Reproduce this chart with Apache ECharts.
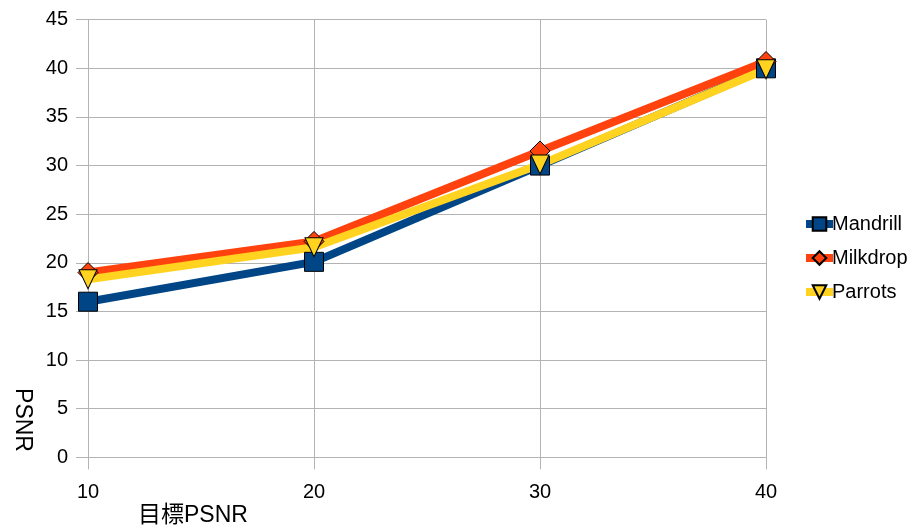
<!DOCTYPE html>
<html>
<head>
<meta charset="utf-8">
<script src="https://cdn.jsdelivr.net/npm/echarts@6/dist/echarts.min.js"></script>
<style>
  html, body { margin: 0; padding: 0; background: #ffffff; }
  #chart { width: 913px; height: 531px; }
</style>
</head>
<body>
<div id="chart"></div>
<script>
// Target PSNR on the x axis, achieved PSNR per test image
const targetPsnr = [10, 20, 30, 40];
const mandrill = [16.0, 20.1, 30.0, 40.0];
const milkdrop = [19.0, 22.2, 31.5, 40.7];
const parrots = [18.3, 21.6, 30.1, 39.9];
const yTicks = { min: 0, max: 45, step: 5 };
const xTicks = { min: 10, max: 40, step: 10 };

const FONT = '"Liberation Sans", Arial, sans-serif';
const GRID_COLOR = '#b3b3b3';

function pairs(values) {
  return targetPsnr.map((x, i) => [x, values[i]]);
}

function lineSeries(name, values, color, symbol, size, rotate) {
  return {
    name: name,
    type: 'line',
    data: pairs(values),
    symbol: symbol,
    symbolSize: size,
    symbolRotate: rotate || 0,
    showAllSymbol: true,
    lineStyle: { color: color, width: 8 },
    itemStyle: { color: color, borderColor: '#000000', borderWidth: 1 },
    emphasis: { disabled: true },
    animation: false
  };
}

const chart = echarts.init(document.getElementById('chart'), null, { renderer: 'canvas' });
chart.setOption({
  backgroundColor: '#ffffff',
  animation: false,
  grid: { left: 88, right: 147, top: 19.7, bottom: 73.7, containLabel: false },
  xAxis: {
    type: 'value',
    min: xTicks.min,
    max: xTicks.max,
    interval: xTicks.step,
    axisLine: { show: true, lineStyle: { color: GRID_COLOR, width: 1 } },
    axisTick: { show: true, length: 12, lineStyle: { color: GRID_COLOR } },
    splitLine: { show: true, lineStyle: { color: GRID_COLOR, width: 1 } },
    axisLabel: { color: '#000000', fontFamily: FONT, fontSize: 20, margin: 25 }
  },
  yAxis: {
    type: 'value',
    min: yTicks.min,
    max: yTicks.max,
    interval: yTicks.step,
    axisLine: { show: true, lineStyle: { color: GRID_COLOR, width: 1 } },
    axisTick: { show: true, length: 12, lineStyle: { color: GRID_COLOR } },
    splitLine: { show: true, lineStyle: { color: GRID_COLOR, width: 1 } },
    axisLabel: { color: '#000000', fontFamily: FONT, fontSize: 20, margin: 20 }
  },
  legend: {
    orient: 'vertical',
    left: 797,
    top: 209,
    itemGap: 14,
    itemWidth: 27,
    itemHeight: 17,
    lineStyle: { width: 8 },
    textStyle: { color: '#000000', fontFamily: FONT, fontSize: 20, padding: [0, 0, 0, -6] },
    data: ['Mandrill', 'Milkdrop', 'Parrots']
  },
  graphic: [
    {
      type: 'text',
      x: 138,
      y: 516,
      style: {
        text: '目標PSNR',
        fill: '#000000',
        font: '23px "Liberation Sans", "Noto Sans CJK JP", sans-serif',
        verticalAlign: 'middle'
      }
    },
    {
      type: 'text',
      x: 22,
      y: 420,
      rotation: -Math.PI / 2,
      style: { text: 'PSNR', fill: '#000000', font: '23px ' + FONT, align: 'center', verticalAlign: 'middle' }
    }
  ],
  series: [
    lineSeries('Mandrill', mandrill, '#004586', 'rect', 19),
    lineSeries('Milkdrop', milkdrop, '#ff420e', 'diamond', 20),
    lineSeries('Parrots', parrots, '#ffd320', 'triangle', [18, 19], 180)
  ]
});
</script>
</body>
</html>
